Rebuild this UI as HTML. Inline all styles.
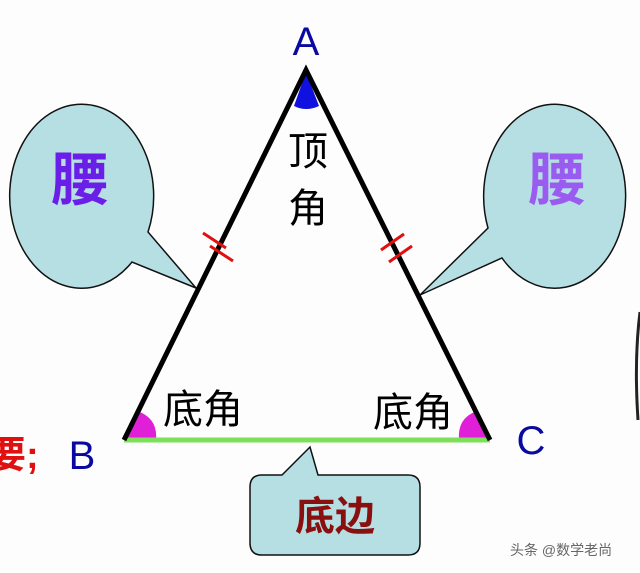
<!DOCTYPE html>
<html><head><meta charset="utf-8"><style>
html,body{margin:0;padding:0;background:#fdfdfd;}
svg{display:block;}
text{font-family:"Liberation Sans","Noto Sans CJK SC",sans-serif;}
</style></head><body>
<svg width="640" height="573" viewBox="0 0 640 573" xmlns="http://www.w3.org/2000/svg">
<rect width="640" height="573" fill="#fdfdfd"/>
<!-- left bubble -->
<path d="M148,232 A72,92 0 1 0 132,262 L196,288 Z" fill="#b5dfe3" stroke="#111" stroke-width="1.5"/>
<path d="M488,228 A71,92 0 1 1 502,258 L420,295 Z" fill="#b5dfe3" stroke="#111" stroke-width="1.5"/>
<text x="80" y="200" font-size="58" font-weight="bold" fill="#6a1ee8" text-anchor="middle" font-family="Noto Sans CJK SC">腰</text>
<text x="557" y="200" font-size="58" font-weight="bold" fill="#9a5cf0" text-anchor="middle" font-family="Noto Sans CJK SC">腰</text>
<!-- angles -->
<path d="M306,72 L294,106 Q306,112 319,106 Z" fill="#1010e0"/>
<path d="M124,440 L137,411 Q158,418 156,440 Z" fill="#e020d8"/>
<path d="M490,440 L477,411 Q457,418 459,440 Z" fill="#e020d8"/>
<!-- base -->
<line x1="124" y1="440" x2="490" y2="440" stroke="#7ee05a" stroke-width="5"/>
<!-- sides -->
<path d="M124,440 L306,70 L490,440" fill="none" stroke="#000" stroke-width="5" stroke-linejoin="miter"/>
<!-- ticks -->
<g stroke="#e01010" stroke-width="3">
<line x1="203" y1="233" x2="226" y2="248"/><line x1="210" y1="246" x2="233" y2="261"/>
<line x1="381" y1="250" x2="404" y2="234"/><line x1="389" y1="262" x2="412" y2="246"/>
</g>
<text x="308" y="165" font-size="40" fill="#000" text-anchor="middle" font-family="Noto Sans CJK SC">顶</text>
<text x="308" y="222" font-size="40" fill="#000" text-anchor="middle" font-family="Noto Sans CJK SC">角</text>
<text x="203" y="423" font-size="40" fill="#000" text-anchor="middle" font-family="Noto Sans CJK SC">底角</text>
<text x="413" y="426" font-size="40" fill="#000" text-anchor="middle" font-family="Noto Sans CJK SC">底角</text>
<text x="306" y="55" font-size="40" fill="#0a0aa0" text-anchor="middle">A</text>
<text x="82" y="469" font-size="40" fill="#0a0aa0" text-anchor="middle">B</text>
<text x="531" y="454" font-size="40" fill="#0a0aa0" text-anchor="middle">C</text>
<text x="-12" y="468" font-size="38" font-weight="bold" fill="#e01010" font-family="Noto Sans CJK SC">要;</text>
<!-- base bubble -->
<path d="M262,475 L282,475 L310,447 L318,475 L408,475 Q420,475 420,487 L420,543 Q420,555 408,555 L262,555 Q250,555 250,543 L250,487 Q250,475 262,475 Z" fill="#b5dfe3" stroke="#111" stroke-width="1.5"/>
<text x="335" y="530" font-size="40" font-weight="bold" fill="#8a1010" text-anchor="middle" font-family="Noto Sans CJK SC">底边</text>
<text x="510" y="555" font-size="14" fill="#666" font-family="Noto Sans CJK SC">头条 @数学老尚</text>
<path d="M640,312 Q634,360 638,420" fill="none" stroke="#222" stroke-width="3"/>
</svg>
</body></html>
